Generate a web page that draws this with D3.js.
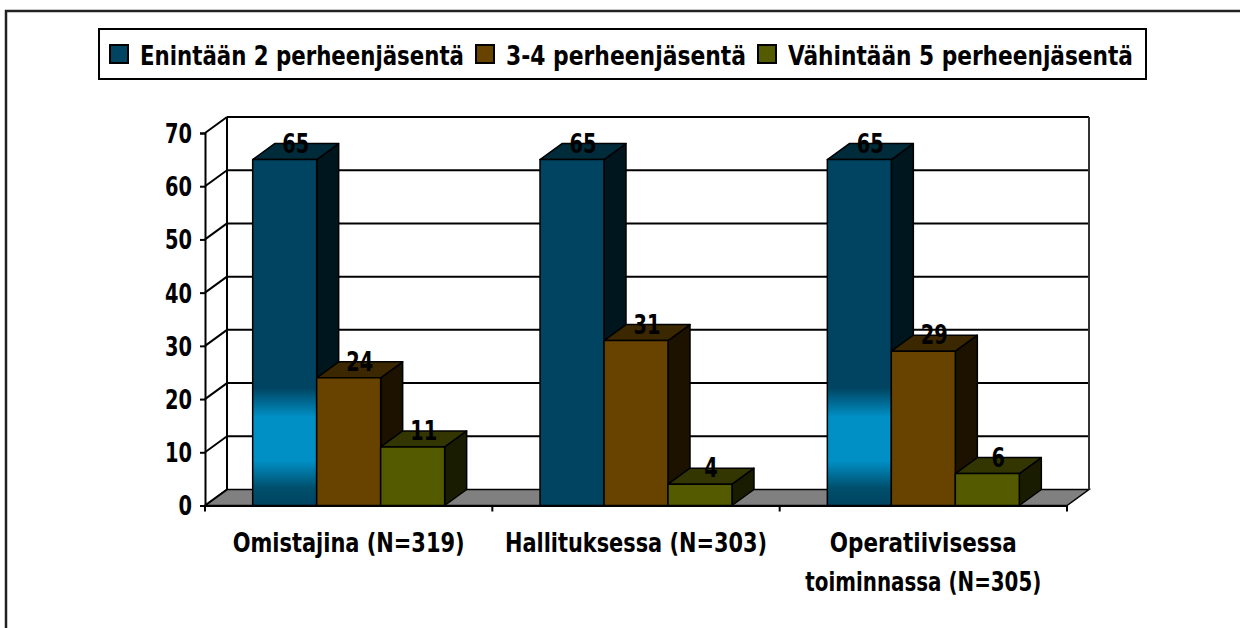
<!DOCTYPE html>
<head>
<meta charset="utf-8">
<title>Perheenjäsenet</title>
<script src="https://d3js.org/d3.v7.min.js" charset="utf-8"></script>
<style>
  body { margin: 0; background: #fff; }
  text { font-family: "DejaVu Sans Condensed", "DejaVu Sans", sans-serif; font-stretch: condensed; }
</style>
</head>
<body>
<div id="chart"></div>
<script>

// data
const categories = ["Omistajina (N=319)", "Hallituksessa (N=303)", "Operatiivisessa toiminnassa (N=305)"];
const categoryLines = [["Omistajina (N=319)"], ["Hallituksessa (N=303)"], ["Operatiivisessa", "toiminnassa (N=305)"]];
const seriesNames = ["Enintään 2 perheenjäsentä", "3-4 perheenjäsentä", "Vähintään 5 perheenjäsentä"];
const enintaan2 = [65, 65, 65];
const kolmeNelja = [24, 31, 29];
const vahintaan5 = [11, 4, 6];
const yTicks = [0, 10, 20, 30, 40, 50, 60, 70];

const seriesValues = [enintaan2, kolmeNelja, vahintaan5];

// front / side / top colours for each series
const faceColors = [
  { front: "#004461", side: "#00161f", top: "#002b3b" },
  { front: "#684300", side: "#1d1200", top: "#3b2800" },
  { front: "#545a00", side: "#1a1c00", top: "#333600" }
];

const W = 1240, H = 628;
const depth = { dx: 22, dy: -16 };

function CreateSVG() {
  return d3.select("#chart").append("svg")
    .attr("width", W)
    .attr("height", H)
    .attr("viewBox", [0, 0, W, H]);
}

function fitText(sel, w) {
  sel.attr("textLength", w).attr("lengthAdjust", "spacingAndGlyphs");
}

function drawChart(svg) {

  const x0 = d3.scaleBand().domain(categories).range([205, 1067]).padding(0);
  const x1 = d3.scaleBand().domain(seriesNames).range([0, x0.bandwidth()])
    .paddingInner(0).paddingOuter(0.745);
  const y = d3.scaleLinear().domain([0, 70]).range([505.5, 133]);

  const defs = svg.append("defs");
  const grad = defs.append("linearGradient")
    .attr("id", "blueGlow")
    .attr("x1", 0).attr("y1", 0).attr("x2", 0).attr("y2", 1);
  [[0, "#004461"], [0.66, "#004461"], [0.745, "#0090c6"], [0.87, "#0090c6"], [0.95, "#004f6c"], [1, "#004461"]]
    .forEach(s => grad.append("stop").attr("offset", s[0]).attr("stop-color", s[1]));

  // outer frame
  svg.append("rect")
    .attr("x", 6).attr("y", 11)
    .attr("width", W + 20).attr("height", H + 20)
    .attr("fill", "#fff")
    .attr("stroke", "#222")
    .attr("stroke-width", 2.5);

  const [xa, xb] = x0.range();
  const y0 = y(0);

  // floor
  svg.append("polygon")
    .attr("points", [[xa, y0], [xb, y0], [xb + depth.dx, y0 + depth.dy], [xa + depth.dx, y0 + depth.dy]].join(" "))
    .attr("fill", "#808080")
    .attr("stroke", "#000")
    .attr("stroke-width", 1.5);

  // back wall gridlines + side wall diagonals
  const grid = svg.append("g").attr("stroke", "#000").attr("stroke-width", 2);
  grid.selectAll("line.back")
    .data(yTicks.filter(d => d > 0))
    .join("line")
      .attr("class", "back")
      .attr("x1", xa + depth.dx).attr("x2", xb + depth.dx)
      .attr("y1", d => y(d) + depth.dy).attr("y2", d => y(d) + depth.dy);
  grid.selectAll("line.diag")
    .data(yTicks)
    .join("line")
      .attr("class", "diag")
      .attr("x1", xa).attr("x2", xa + depth.dx)
      .attr("y1", d => y(d)).attr("y2", d => y(d) + depth.dy);
  grid.append("line")
    .attr("x1", xa + depth.dx).attr("x2", xa + depth.dx)
    .attr("y1", y0 + depth.dy).attr("y2", y(70) + depth.dy);
  grid.append("line")
    .attr("x1", xb + depth.dx).attr("x2", xb + depth.dx)
    .attr("y1", y0 + depth.dy).attr("y2", y(70) + depth.dy)
    .attr("stroke", "#333");

  // bars
  const bars = [];
  categories.forEach((c, ci) => {
    seriesNames.forEach((s, si) => {
      bars.push({ c, ci, s, si, v: seriesValues[si][ci] });
    });
  });

  const barG = svg.append("g")
    .selectAll("g")
    .data(bars)
    .join("g")
      .attr("stroke", "#000")
      .attr("stroke-width", 1.5)
      .attr("stroke-linejoin", "round");

  barG.each(function(d) {
    const g = d3.select(this);
    const L = x0(d.c) + x1(d.s);
    const R = L + x1.bandwidth();
    const T = y(d.v);
    const col = faceColors[d.si];
    // side
    g.append("polygon")
      .attr("points", [[R, T], [R + depth.dx, T + depth.dy], [R + depth.dx, y0 + depth.dy], [R, y0]].join(" "))
      .attr("fill", col.side);
    // top
    g.append("polygon")
      .attr("points", [[L, T], [L + depth.dx, T + depth.dy], [R + depth.dx, T + depth.dy], [R, T]].join(" "))
      .attr("fill", col.top);
    // front
    g.append("rect")
      .attr("x", L).attr("y", T)
      .attr("width", R - L).attr("height", y0 - T)
      .attr("fill", (d.si === 0 && d.ci !== 1) ? "url(#blueGlow)" : col.front);
  });

  // value labels
  svg.append("g")
    .selectAll("text")
    .data(bars)
    .join("text")
      .attr("x", d => x0(d.c) + x1(d.s) + x1.bandwidth() / 2 + depth.dx / 2)
      .attr("y", d => y(d.v) - 7)
      .attr("text-anchor", "middle")
      .attr("font-size", 26)
      .attr("font-weight", "bold")
      .attr("fill", "#000")
      .text(d => d.v)
      .each(function(d) { fitText(d3.select(this), String(d.v).length * 13.5); });

  // y axis (front)
  const yAxis = svg.append("g")
    .attr("transform", `translate(${xa},0)`)
    .call(d3.axisLeft(y).tickValues(yTicks).tickSize(5).tickPadding(8));
  yAxis.select(".domain").attr("stroke", "#000").attr("stroke-width", 2);
  yAxis.selectAll(".tick line").attr("stroke", "#000").attr("stroke-width", 2);
  yAxis.selectAll(".tick text")
    .attr("font-size", 26)
    .attr("font-weight", "bold")
    .attr("fill", "#000")
    .attr("dy", "0.36em")
    .each(function(d) { fitText(d3.select(this), String(d).length * 13.5); });

  // x axis
  const xAxis = svg.append("g")
    .attr("transform", `translate(0,${y0})`)
    .call(d3.axisBottom(x0).tickSize(0).tickFormat(""));
  xAxis.select(".domain").attr("stroke", "#000").attr("stroke-width", 2);
  xAxis.selectAll(".tick").remove();
  xAxis.selectAll("line.sep")
    .data(d3.range(categories.length + 1))
    .join("line")
      .attr("class", "sep")
      .attr("x1", i => xa + i * x0.step()).attr("x2", i => xa + i * x0.step())
      .attr("y1", 0).attr("y2", 6)
      .attr("stroke", "#000").attr("stroke-width", 2);

  const lineWidths = [[232], [262], [187, 236]];
  const catG = svg.append("g")
    .selectAll("text")
    .data(categories)
    .join("text")
      .attr("x", d => x0(d) + x0.bandwidth() / 2)
      .attr("y", 552)
      .attr("text-anchor", "middle")
      .attr("font-size", 27)
      .attr("font-weight", "bold")
      .attr("fill", "#000");
  catG.selectAll("tspan")
    .data((d, i) => categoryLines[i].map((t, j) => ({ t, j, w: lineWidths[i][j], x: x0(d) + x0.bandwidth() / 2 })))
    .join("tspan")
      .attr("x", d => d.x)
      .attr("dy", d => d.j === 0 ? 0 : 39)
      .text(d => d.t)
      .each(function(d) { fitText(d3.select(this), d.w); });

  drawLegend(svg);
}

function drawLegend(svg) {
  const lg = svg.append("g");
  lg.append("rect")
    .attr("x", 99).attr("y", 29)
    .attr("width", 1047).attr("height", 50)
    .attr("fill", "#fff")
    .attr("stroke", "#000")
    .attr("stroke-width", 2);

  const textW = [324, 240, 345];
  let cx = 110;
  seriesNames.forEach((s, i) => {
    lg.append("rect")
      .attr("x", cx).attr("y", 45)
      .attr("width", 18).attr("height", 18)
      .attr("fill", faceColors[i].front)
      .attr("stroke", "#000")
      .attr("stroke-width", 2);
    cx += 30;
    lg.append("text")
      .attr("x", cx).attr("y", 65)
      .attr("font-size", 27)
      .attr("font-weight", "bold")
      .attr("fill", "#000")
      .text(s)
      .call(fitText, textW[i]);
    cx += textW[i] + 12;
  });
}

const svg = CreateSVG();
drawChart(svg);

</script>
</body>
</html>
